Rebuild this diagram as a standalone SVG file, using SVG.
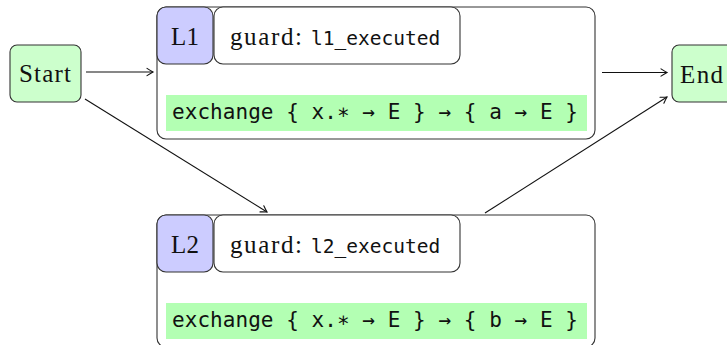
<svg xmlns="http://www.w3.org/2000/svg" width="727" height="345" viewBox="0 0 727 345">
<style>
.term{fill:#ccffcc;stroke:#333;stroke-width:1.1}
.box{fill:#fff;stroke:#333;stroke-width:1.1}
.lab{fill:#ccccff;stroke:#333;stroke-width:1.1}
.bar{fill:#b3ffb3;stroke:none}
.serif{font-family:"Liberation Serif","DejaVu Serif",serif;font-size:25px;fill:#111}
.mono{font-family:"DejaVu Sans Mono","Liberation Mono",monospace;font-size:19.5px;fill:#111}
.mono.big{font-size:21px}
.edge{stroke:#111;stroke-width:1.1;fill:none;marker-end:url(#arr)}
</style>
<defs>
<marker id="arr" markerUnits="userSpaceOnUse" viewBox="-8 -5 10 10" refX="0" refY="0" markerWidth="10" markerHeight="10" orient="auto">
<path d="M -6 -3.6 Q -2 -1 0 0 Q -2 1 -6 3.6" fill="none" stroke="#111" stroke-width="1.1" stroke-linecap="round"/>
</marker>
</defs>
<g id="edges">
<path class="edge" d="M 86 72 L 153 72"/>
<path class="edge" d="M 602 72.5 L 667 72.5"/>
<path class="edge" d="M 85 99 L 267 212"/>
<path class="edge" d="M 485 213 L 667 97"/>
</g>
<g id="start">
<rect class="term" x="10" y="45" width="71" height="57" rx="7"/>
<text class="serif" x="19" y="82" textLength="52">Start</text>
</g>
<g id="end">
<rect class="term" x="672" y="45" width="70" height="57" rx="7"/>
<text class="serif" x="680" y="83" textLength="43">End</text>
</g>
<g id="L1">
<rect class="box" x="157" y="7" width="438" height="132" rx="9"/>
<rect class="bar" x="166" y="95" width="421" height="36"/>
<text class="mono big" x="172" y="119" textLength="406">exchange { x.∗ → E } → { a → E }</text>
<rect class="lab" x="157" y="7" width="56" height="57" rx="9"/>
<text class="serif" x="185" y="45" text-anchor="middle">L1</text>
<rect class="box" x="214" y="7" width="246" height="57" rx="9"/>
<text class="serif" x="230" y="45" textLength="72">guard:</text>
<text class="mono" x="311" y="45">l1_executed</text>
</g>
<g id="L2">
<rect class="box" x="157" y="215" width="438" height="132" rx="9"/>
<rect class="bar" x="166" y="303" width="421" height="36"/>
<text class="mono big" x="172" y="327" textLength="406">exchange { x.∗ → E } → { b → E }</text>
<rect class="lab" x="157" y="215" width="56" height="57" rx="9"/>
<text class="serif" x="185" y="253" text-anchor="middle">L2</text>
<rect class="box" x="214" y="215" width="246" height="57" rx="9"/>
<text class="serif" x="230" y="253" textLength="72">guard:</text>
<text class="mono" x="311" y="253">l2_executed</text>
</g>
</svg>
